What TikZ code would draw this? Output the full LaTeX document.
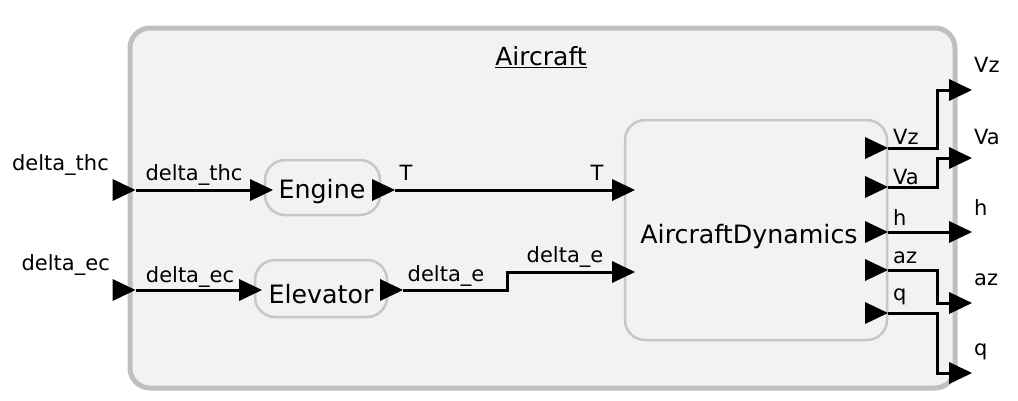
\documentclass[tikz,border=0pt]{standalone}
\usepackage{fontspec}
\setmainfont{DejaVu Sans}
\begin{document}
\begin{tikzpicture}[x=1pt,y=-1pt,
  lbl/.style={font=\fontsize{21}{25}\selectfont, inner sep=0pt},
  big/.style={font=\fontsize{25.3}{29}\selectfont, inner sep=0pt},
  block/.style={draw=black!22, line width=2.5pt, fill=black!5, rounded corners=20pt},
  port/.style={minimum width=23pt, minimum height=22pt, inner sep=0pt, outer sep=0pt,
    path picture={\fill[black] (path picture bounding box.south west) -- (path picture bounding box.north west) -- (path picture bounding box.east) -- cycle;}},
  wire/.style={line width=3pt, line join=miter}]
\useasboundingbox (0,0) rectangle (1018,400);
% outer system
\draw[draw=black!25, line width=5pt, fill=black!5, rounded corners=20pt] (130,28) rectangle (955,388);
\node[lbl, font=\fontsize{25}{29}\selectfont] (title) at (541,57) {\underline{Aircraft}};
% blocks
\node[block, minimum width=115pt, minimum height=55pt] (engine) at (322.5,187.5) {};
\node[big] (enginet) at (322,192) {Engine};
\node[block, minimum width=132pt, minimum height=57pt] (elev) at (321,288.5) {};
\node[big] (elevt) at (321,294) {Elevator};
\node[block, minimum width=262pt, minimum height=220pt] (dyn) at (756,230) {};
\node[big] (dynt) at (749,237) {AircraftDynamics};
% outer input ports
\node[port] (pthc) at (124,190) {};
\node[port] (pec) at (124,290) {};
\node[lbl, anchor=east] (lthc) at (109,165) {delta\_thc};
\node[lbl, anchor=east] (lec) at (110,265) {delta\_ec};
% block ports
\node[port] (engin) at (261.5,190) {};
\node[port] (engout) at (383.5,190) {};
\node[port] (elin) at (250.5,290) {};
\node[port] (elout) at (391.5,290) {};
\node[port] (dT) at (623.5,190) {};
\node[port] (dde) at (623.5,272) {};
\node[port] (dVz) at (876.5,148) {};
\node[port] (dVa) at (876.5,187) {};
\node[port] (dh) at (876.5,232) {};
\node[port] (daz) at (876.5,270) {};
\node[port] (dq) at (876.5,313) {};
% outer output ports
\node[port] (oVz) at (960.5,90) {};
\node[port] (oVa) at (960.5,158) {};
\node[port] (oh) at (960.5,232) {};
\node[port] (oaz) at (960.5,303) {};
\node[port] (oq) at (960.5,373) {};
% labels
\node[lbl] at (194,175) {delta\_thc};
\node[lbl] at (190,277) {delta\_ec};
\node[lbl] at (406,173) {T};
\node[lbl] at (597,173) {T};
\node[lbl] at (446,276) {delta\_e};
\node[lbl] at (565,257) {delta\_e};
\node[lbl, anchor=west] at (893,137) {Vz};
\node[lbl, anchor=west] at (893,177) {Va};
\node[lbl, anchor=west] at (893,218) {h};
\node[lbl, anchor=west] at (893,258) {az};
\node[lbl, anchor=west] at (893,297) {q};
\node[lbl, anchor=west] at (974,65) {Vz};
\node[lbl, anchor=west] at (974,137) {Va};
\node[lbl, anchor=west] at (974,208) {h};
\node[lbl, anchor=west] at (974,280) {az};
\node[lbl, anchor=west] at (974,352) {q};
% wires
\draw[wire] (pthc.east) -- (engin.west);
\draw[wire] (pec.east) -- (elin.west);
\draw[wire] (engout.east) -- (dT.west);
\draw[wire] (elout.east) -- (507,290) -- (507,272) -- (dde.west);
\draw[wire] (dVz.east) -- (937,148) -- (937,90) -- (oVz.west);
\draw[wire] (dVa.east) -- (937,187) -- (937,158) -- (oVa.west);
\draw[wire] (dh.east) -- (oh.west);
\draw[wire] (daz.east) -- (937,270) -- (937,303) -- (oaz.west);
\draw[wire] (dq.east) -- (937,313) -- (937,373) -- (oq.west);
\end{tikzpicture}
\end{document}
